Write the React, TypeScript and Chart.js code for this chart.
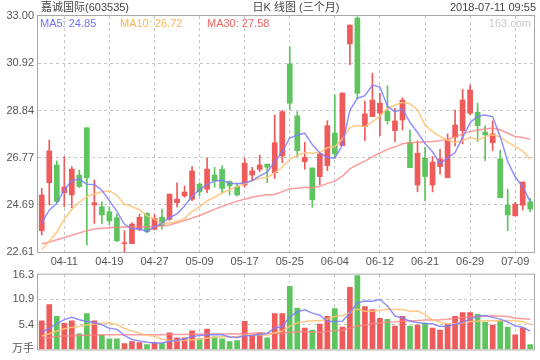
import React, { useEffect, useRef } from 'react';
import { Chart, registerables } from 'chart.js';

Chart.register(...registerables);

// ---- data ----
const dates = [
  '04-04', '04-09', '04-10', '04-11', '04-12', '04-13', '04-16', '04-17', '04-18', '04-19',
  '04-20', '04-23', '04-24', '04-25', '04-26', '04-27', '05-02', '05-03', '05-04', '05-07',
  '05-08', '05-09', '05-10', '05-11', '05-14', '05-15', '05-16', '05-17', '05-18', '05-21',
  '05-22', '05-23', '05-24', '05-25', '05-28', '05-29', '05-30', '05-31', '06-01', '06-04',
  '06-05', '06-06', '06-07', '06-08', '06-11', '06-12', '06-13', '06-14', '06-15', '06-19',
  '06-20', '06-21', '06-22', '06-25', '06-26', '06-27', '06-28', '06-29', '07-02', '07-03',
  '07-04', '07-05', '07-06', '07-09', '07-10', '07-11',
];
const tickDates = ['04-11', '04-19', '04-27', '05-09', '05-17', '05-25', '06-04', '06-12', '06-21', '06-29', '07-09'];

const opens = [
  23.55, 25.66, 26.44, 25.22, 25.12, 26.00, 28.08, 24.68, 24.60, 24.38,
  24.12, 22.98, 22.98, 23.61, 24.31, 23.61, 24.14, 24.05, 24.78, 25.08,
  24.93, 25.60, 25.37, 26.00, 26.25, 25.71, 25.49, 25.56, 26.00, 26.25,
  26.48, 26.10, 26.84, 30.89, 28.60, 26.59, 26.31, 25.93, 26.41, 27.85,
  27.29, 31.77, 32.91, 28.13, 28.57, 28.72, 28.80, 27.95, 28.42, 27.44,
  25.56, 26.74, 25.56, 26.37, 25.88, 27.66, 27.95, 28.72, 28.76, 27.89,
  27.42, 26.71, 24.68, 24.20, 24.67, 24.82,
];
const closes = [
  25.12, 27.06, 24.83, 25.47, 26.26, 25.49, 25.88, 24.78, 24.24, 23.98,
  23.11, 23.02, 23.84, 24.14, 23.50, 24.09, 23.77, 25.16, 24.94, 25.25,
  26.18, 25.26, 26.26, 25.75, 25.41, 25.52, 25.12, 26.52, 26.18, 26.44,
  26.34, 27.42, 28.79, 29.16, 27.07, 26.78, 24.91, 26.93, 28.17, 26.93,
  29.61, 32.60, 29.60, 28.69, 29.30, 29.16, 28.39, 28.38, 29.30, 26.32,
  26.96, 25.93, 26.57, 26.71, 27.54, 28.20, 29.30, 29.74, 28.17, 27.77,
  27.81, 25.00, 24.24, 24.72, 25.69, 24.50,
];
const highs = [
  25.41, 27.54, 26.62, 26.81, 26.37, 26.22, 28.08, 25.78, 24.82, 24.60,
  24.28, 23.55, 23.90, 24.28, 24.33, 24.28, 24.50, 25.16, 25.66, 25.52,
  26.37, 25.66, 26.74, 26.34, 26.40, 25.74, 25.66, 26.74, 26.34, 26.88,
  26.48, 28.64, 28.84, 31.65, 28.79, 27.44, 26.31, 26.93, 28.39, 29.52,
  29.61, 32.60, 32.97, 29.25, 30.48, 29.60, 29.93, 28.94, 29.40, 27.98,
  27.50, 27.22, 26.81, 27.13, 27.81, 28.86, 29.77, 29.96, 29.16, 28.16,
  28.38, 27.10, 25.38, 24.80, 25.69, 24.97,
];
const lows = [
  23.36, 24.68, 24.77, 24.60, 24.56, 25.45, 22.92, 23.87, 23.87, 23.80,
  23.06, 22.61, 22.98, 23.55, 23.46, 23.58, 23.61, 24.00, 24.60, 25.02,
  24.87, 25.08, 25.22, 25.46, 25.19, 25.12, 25.08, 25.46, 25.78, 26.15,
  25.66, 25.85, 26.54, 28.86, 26.81, 26.26, 24.58, 25.57, 26.19, 26.75,
  27.29, 30.86, 29.35, 27.51, 28.57, 27.73, 28.25, 27.47, 27.98, 26.32,
  25.26, 24.87, 25.26, 26.04, 25.88, 27.28, 27.37, 28.65, 27.47, 26.63,
  27.07, 25.00, 23.55, 24.20, 24.46, 24.38,
];
const ma5 = [
  23.90, 24.45, 24.75, 25.35, 25.75, 25.82, 25.59, 25.58, 25.33, 24.87,
  24.40, 23.83, 23.64, 23.62, 23.52, 23.72, 23.87, 24.13, 24.29, 24.64,
  25.06, 25.36, 25.58, 25.74, 25.77, 25.64, 25.61, 25.66, 25.75, 25.96,
  26.12, 26.58, 27.03, 27.63, 27.76, 27.84, 27.34, 26.97, 26.77, 26.74,
  27.31, 28.85, 29.38, 29.49, 29.96, 29.87, 29.03, 28.78, 28.91, 28.31,
  27.87, 27.38, 27.02, 26.50, 26.74, 26.99, 27.66, 28.30, 28.59, 28.64,
  28.56, 27.70, 26.60, 25.91, 25.49, 24.83,
];
const ma10 = [
  22.72, 23.08, 23.48, 24.05, 24.48, 24.80, 25.05, 25.16, 25.26, 25.31,
  25.11, 24.71, 24.61, 24.47, 24.20, 24.06, 23.85, 23.89, 23.96, 24.08,
  24.39, 24.61, 24.86, 25.02, 25.21, 25.35, 25.49, 25.62, 25.75, 25.86,
  25.88, 26.10, 26.35, 26.69, 26.86, 26.98, 26.96, 27.00, 27.20, 27.25,
  27.58, 28.10, 28.18, 28.13, 28.35, 28.59, 28.94, 29.08, 29.20, 29.14,
  28.87, 28.20, 27.90, 27.70, 27.53, 27.43, 27.52, 27.66, 27.54, 27.69,
  27.77, 27.68, 27.45, 27.25, 27.06, 26.69,
];
const ma30 = [
  22.96, 23.05, 23.15, 23.25, 23.35, 23.45, 23.55, 23.62, 23.66, 23.68,
  23.70, 23.71, 23.71, 23.72, 23.72, 23.73, 23.75, 23.80, 23.90, 24.00,
  24.10, 24.22, 24.35, 24.50, 24.62, 24.74, 24.85, 24.93, 25.02, 25.09,
  25.13, 25.14, 25.27, 25.39, 25.42, 25.46, 25.43, 25.50, 25.63, 25.73,
  25.95, 26.27, 26.46, 26.61, 26.81, 26.97, 27.13, 27.24, 27.38, 27.42,
  27.44, 27.46, 27.48, 27.51, 27.58, 27.67, 27.81, 27.91, 27.98, 28.02,
  28.07, 27.99, 27.84, 27.69, 27.65, 27.57,
];
const volumes = [
  6.2, 9.74, 7.2, 5.7, 6.2, 3.39, 7.83, 6.2, 3.18, 2.33,
  2.33, 1.27, 1.69, 1.48, 1.06, 1.48, 1.27, 3.6, 2.54, 2.54,
  4.02, 2.33, 4.45, 2.75, 2.33, 1.69, 1.9, 6.14, 3.18, 3.6,
  2.54, 7.83, 7.83, 13.76, 9.03, 4.66, 4.23, 5.5, 7.2, 8.89,
  4.87, 13.55, 16.1, 9.31, 8.68, 6.77, 6.56, 5.08, 7.2, 5.08,
  5.29, 5.71, 4.66, 4.23, 5.5, 7.2, 8.04, 8.04, 7.62, 5.93,
  5.29, 6.14, 4.87, 3.18, 4.66, 1.06,
];
const volMa5 = [
  3.7, 4.6, 5.6, 6.5, 7.01, 6.45, 6.06, 5.86, 5.36, 4.59,
  4.37, 3.06, 2.16, 1.82, 1.57, 1.40, 1.40, 1.78, 1.99, 2.29,
  2.79, 3.01, 3.18, 3.22, 3.18, 2.71, 2.62, 2.96, 3.05, 3.30,
  3.47, 4.66, 5.00, 7.11, 8.20, 8.62, 7.90, 7.44, 6.12, 6.10,
  6.14, 8.00, 10.12, 10.54, 10.50, 10.88, 9.48, 7.28, 6.86, 6.14,
  5.84, 5.67, 5.59, 4.99, 5.08, 5.46, 5.93, 6.60, 7.28, 7.37,
  6.98, 6.60, 5.97, 5.08, 4.83, 3.98,
];
const volMa10 = [
  2.9, 3.4, 4.0, 4.5, 4.8, 5.0, 5.3, 5.5, 5.7, 5.80,
  5.41, 4.56, 4.01, 3.59, 3.08, 2.89, 2.23, 1.97, 1.91, 1.93,
  2.10, 2.20, 2.48, 2.60, 2.73, 2.75, 2.82, 3.07, 3.13, 3.24,
  3.09, 3.64, 3.98, 5.08, 5.75, 6.05, 6.28, 6.22, 6.62, 7.15,
  7.38, 7.95, 8.78, 8.33, 8.30, 8.51, 8.74, 8.70, 8.70, 8.32,
  8.36, 7.58, 6.43, 5.93, 5.61, 5.65, 5.80, 6.10, 6.14, 6.22,
  6.22, 6.27, 6.29, 6.18, 6.10, 5.48,
];
const volMa30 = [
  2.4, 2.6, 2.8, 2.9, 3.0, 3.05, 3.1, 3.15, 3.18, 3.2,
  3.2, 3.2, 3.2, 3.2, 3.2, 3.2, 3.2, 3.22, 3.24, 3.26,
  3.28, 3.3, 3.32, 3.34, 3.36, 3.38, 3.4, 3.45, 3.5, 3.65,
  3.53, 3.47, 3.49, 3.76, 3.85, 3.89, 3.77, 3.75, 3.89, 4.10,
  4.19, 4.60, 5.08, 5.34, 5.59, 5.77, 5.95, 6.00, 6.15, 6.24,
  6.28, 6.39, 6.40, 6.45, 6.55, 6.74, 6.94, 7.00, 7.15, 7.23,
  7.32, 7.27, 7.17, 6.81, 6.67, 6.55,
];
const priceTicks = [22.61, 24.69, 26.77, 28.84, 30.92, 33.0];
const volTicks = [0, 5.4, 10.9, 16.3];
const volUnit = '万手';
const titleLeft = '嘉诚国际(603535)';
const titleCenter = '日K 线图 (三个月)';
const titleRight = '2018-07-11 09:55';
const legendLabels = ['MA5: 24.85', 'MA10: 26.72', 'MA30: 27.58'];
const watermark = '163.com';

// ---- styles ----
const RED = '#ef5a5a';
const GREEN = '#5ec45e';
const C_MA5 = 'rgba(125,125,255,0.85)';
const C_MA10 = 'rgba(255,195,120,0.9)';
const C_MA30 = 'rgba(255,130,130,0.8)';
const FONT = '"Liberation Sans", "Noto Sans CJK SC", sans-serif';
const GRID = '#c8c8c8';
const FRAME = '#a8a8a8';

const candleColors = closes.map((c, i) => (c >= opens[i] ? RED : GREEN));

const framePlugin = {
  id: 'frame',
  afterDraw(chart: any) {
    const { ctx, chartArea } = chart;
    ctx.save();
    ctx.strokeStyle = FRAME;
    ctx.lineWidth = 1;
    ctx.strokeRect(chartArea.left - 0.5, chartArea.top - 0.5, chartArea.right - chartArea.left + 1, chartArea.bottom - chartArea.top + 1);
    ctx.restore();
  },
};

const headerPlugin = {
  id: 'header',
  afterDraw(chart: any) {
    const { ctx, chartArea } = chart;
    ctx.save();
    ctx.font = `11px ${FONT}`;
    ctx.textBaseline = 'middle';
    ctx.fillStyle = '#444';
    ctx.textAlign = 'left';
    ctx.fillText(titleLeft, 41, 8);
    ctx.textAlign = 'center';
    ctx.fillText(titleCenter, 296, 8);
    ctx.textAlign = 'right';
    ctx.fillText(titleRight, 536, 8);
    const y = chartArea.top + 8;
    ctx.textAlign = 'left';
    ctx.fillStyle = '#7373ff';
    ctx.fillText(legendLabels[0], 40, y);
    ctx.fillStyle = '#ffb54f';
    ctx.fillText(legendLabels[1], 120, y);
    ctx.fillStyle = '#f06464';
    ctx.fillText(legendLabels[2], 207, y);
    ctx.textAlign = 'right';
    ctx.fillStyle = '#c8c8c8';
    ctx.fillText(watermark, 531, y);
    ctx.restore();
  },
};

const lineDs = (label: string, data: number[], color: string) => ({
  type: 'line' as const,
  label,
  data,
  borderColor: color,
  borderWidth: 1.5,
  pointRadius: 0,
  tension: 0,
  fill: false,
});

const xScale = (showLabels: boolean, height: number) => ({
  offset: true,
  grid: {
    offset: false,
    drawTicks: false,
    color: (ctx: any) => (tickDates.includes(dates[ctx.index]) ? GRID : 'transparent'),
  },
  border: { display: false, dash: [3, 3] },
  ticks: {
    display: showLabels,
    autoSkip: false,
    maxRotation: 0,
    padding: 3,
    color: '#555',
    font: { family: FONT, size: 11 },
    callback: (_v: any, i: number) => (tickDates.includes(dates[i]) ? dates[i] : ''),
  },
  afterFit: (s: any) => {
    s.height = height;
  },
});

export default function App() {
  const priceRef = useRef<HTMLCanvasElement>(null);
  const volRef = useRef<HTMLCanvasElement>(null);

  useEffect(() => {
    const priceChart = new Chart(priceRef.current as HTMLCanvasElement, {
      type: 'bar',
      data: {
        labels: dates,
        datasets: [
          lineDs('MA5', ma5, C_MA5),
          lineDs('MA10', ma10, C_MA10),
          lineDs('MA30', ma30, C_MA30),
          {
            type: 'bar',
            label: 'body',
            data: opens.map((o, i) => [o, closes[i]]),
            backgroundColor: candleColors,
            barThickness: 5,
            grouped: false,
            borderWidth: 0,
          } as any,
          {
            type: 'bar',
            label: 'wick',
            data: lows.map((l, i) => [l, highs[i]]),
            backgroundColor: candleColors,
            barThickness: 1,
            grouped: false,
            borderWidth: 0,
          } as any,
        ],
      },
      options: {
        animation: false,
        responsive: false,
        layout: { padding: { top: 16, right: 6, left: 0, bottom: 0 } },
        plugins: { legend: { display: false }, tooltip: { enabled: false } },
        scales: {
          x: xScale(true, 20) as any,
          y: {
            min: 22.61,
            max: 33.0,
            afterBuildTicks: (s: any) => {
              s.ticks = priceTicks.map((v) => ({ value: v }));
            },
            afterFit: (s: any) => {
              s.width = 38;
            },
            grid: {
              drawTicks: false,
              color: (ctx: any) =>
                ctx.tick && (ctx.tick.value === priceTicks[0] || ctx.tick.value === priceTicks[priceTicks.length - 1])
                  ? 'transparent'
                  : GRID,
            },
            border: { display: false, dash: [3, 3] },
            ticks: {
              padding: 4,
              color: '#555',
              font: { family: FONT, size: 11 },
              callback: (v: any) => Number(v).toFixed(2),
            },
          } as any,
        },
      },
      plugins: [framePlugin, headerPlugin],
    });

    const volChart = new Chart(volRef.current as HTMLCanvasElement, {
      type: 'bar',
      data: {
        labels: dates,
        datasets: [
          lineDs('VMA5', volMa5, C_MA5),
          lineDs('VMA10', volMa10, C_MA10),
          lineDs('VMA30', volMa30, C_MA30),
          {
            type: 'bar',
            label: 'volume',
            data: volumes,
            backgroundColor: candleColors,
            barThickness: 5,
            grouped: false,
            borderWidth: 0,
          } as any,
        ],
      },
      options: {
        animation: false,
        responsive: false,
        layout: { padding: { top: 10, right: 6, left: 0, bottom: 9 } },
        plugins: { legend: { display: false }, tooltip: { enabled: false } },
        scales: {
          x: xScale(false, 0) as any,
          y: {
            min: 0,
            max: 16.3,
            afterBuildTicks: (s: any) => {
              s.ticks = volTicks.map((v) => ({ value: v }));
            },
            afterFit: (s: any) => {
              s.width = 38;
            },
            grid: {
              drawTicks: false,
              color: (ctx: any) =>
                ctx.tick && (ctx.tick.value === 0 || ctx.tick.value === volTicks[volTicks.length - 1]) ? 'transparent' : GRID,
            },
            border: { display: false, dash: [3, 3] },
            ticks: {
              padding: 4,
              color: '#555',
              font: { family: FONT, size: 11 },
              callback: (v: any) => (Number(v) === 0 ? volUnit : Number(v).toFixed(1)),
            },
          } as any,
        },
      },
      plugins: [framePlugin],
    });

    return () => {
      priceChart.destroy();
      volChart.destroy();
    };
  }, []);

  return (
    <div style={{ position: 'fixed', left: 0, top: 0, width: 540, height: 360, background: '#fff' }}>
      <canvas ref={priceRef} width={540} height={272} style={{ position: 'absolute', left: 0, top: 0, display: 'block' }} />
      <canvas ref={volRef} width={540} height={96} style={{ position: 'absolute', left: 0, top: 264, display: 'block' }} />
    </div>
  );
}
